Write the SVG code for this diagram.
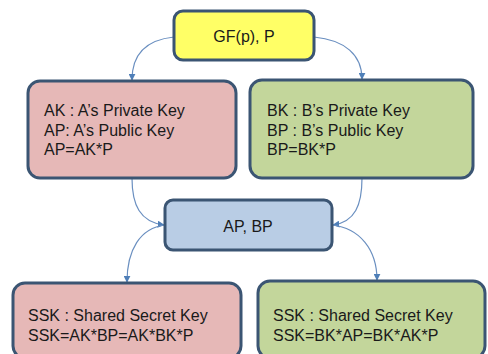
<svg xmlns="http://www.w3.org/2000/svg" width="488" height="354" viewBox="0 0 488 354">
<defs>
<marker id="ah" viewBox="0 0 10 10" refX="9" refY="5" markerWidth="7" markerHeight="7" orient="auto" markerUnits="userSpaceOnUse">
<path d="M0,0 L10,5 L0,10 z" fill="#4f7fb8"/>
</marker>
<style>
.box{stroke:#3b5573;stroke-width:3}
.t{font-family:"Liberation Sans",Arial,sans-serif;font-size:16px;fill:#1a1a1a}
.c{fill:none;stroke:#6a8fc0;stroke-width:1.2;marker-end:url(#ah)}
</style>
</defs>
<rect width="488" height="354" fill="#ffffff"/>
<g id="connectors">
<path class="c" d="M174,37 C145,40 132,55 132,80"/>
<path class="c" d="M314,37 C345,40 362,55 362,79"/>
<path class="c" d="M132,178 C132,205 140,222 164,225"/>
<path class="c" d="M362,178 C362,205 355,222 333,225"/>
<path class="c" d="M165,225 C140,228 127,250 127,282"/>
<path class="c" d="M332,225 C360,228 377,250 377,280"/>
</g>
<g id="n_top">
<rect class="box" x="174" y="11" width="140" height="49" rx="9" fill="#ffff66"/>
<text class="t" x="244" y="42" text-anchor="middle">GF(p), P</text>
</g>
<g id="n_a">
<rect class="box" x="28" y="81" width="208" height="97" rx="12" fill="#e6b8b7"/>
<text class="t" x="44" y="116">AK : A’s Private Key</text>
<text class="t" x="44" y="136">AP: A’s Public Key</text>
<text class="t" x="44" y="155">AP=AK*P</text>
</g>
<g id="n_b">
<rect class="box" x="250" y="80" width="223" height="98" rx="12" fill="#c3d69b"/>
<text class="t" x="267" y="116">BK : B’s Private Key</text>
<text class="t" x="267" y="136">BP : B’s Public Key</text>
<text class="t" x="267" y="155">BP=BK*P</text>
</g>
<g id="n_mid">
<rect class="box" x="165" y="200" width="167" height="50" rx="8" fill="#b9cde5"/>
<text class="t" x="248" y="232" text-anchor="middle">AP, BP</text>
</g>
<g id="n_ssk_a">
<rect class="box" x="13" y="283" width="228" height="75" rx="12" fill="#e6b8b7"/>
<text class="t" x="28" y="321">SSK : Shared Secret Key</text>
<text class="t" x="28" y="341">SSK=AK*BP=AK*BK*P</text>
</g>
<g id="n_ssk_b">
<rect class="box" x="258" y="281" width="227" height="77" rx="12" fill="#c3d69b"/>
<text class="t" x="273" y="321">SSK : Shared Secret Key</text>
<text class="t" x="273" y="341">SSK=BK*AP=BK*AK*P</text>
</g>
</svg>
